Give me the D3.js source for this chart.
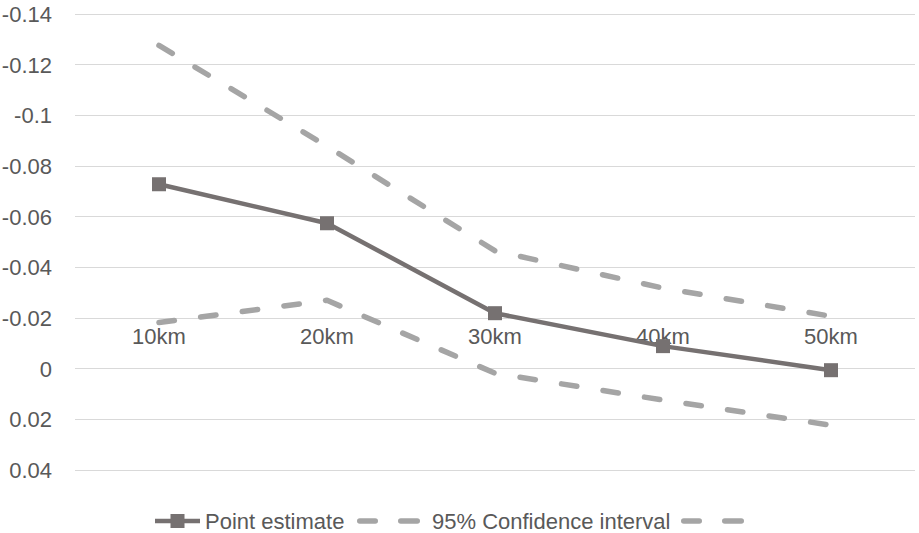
<!DOCTYPE html>
<html>
<head>
<meta charset="utf-8">
<script src="https://cdn.jsdelivr.net/npm/d3@7"></script>
<style>
  html, body { margin: 0; padding: 0; background: #ffffff; }
  svg { display: block; }
  text { font-family: "Liberation Sans", Arial, sans-serif; fill: #595959; }
</style>
</head>
<body>
<svg id="chart" width="919" height="533"></svg>
<script>
const categories = ["10km", "20km", "30km", "40km", "50km"];
const pointEstimate = [-0.0726, -0.0572, -0.0217, -0.0087, 0.0008];
const upperCI = [-0.1274, -0.0876, -0.0463, -0.0316, -0.0205];
const lowerCI = [-0.0180, -0.0268, 0.0020, 0.0126, 0.0225];
const yTicks = [-0.14, -0.12, -0.1, -0.08, -0.06, -0.04, -0.02, 0, 0.02, 0.04];
const seriesNames = ["Point estimate", "95% Confidence interval", ""];

const svg = d3.select("#chart");
const plot = { left: 75, right: 915, top: 13.5, bottom: 469.5 };
const FS = "22px";

const x = d3.scaleBand().domain(categories).range([plot.left, plot.right]);
const y = d3.scaleLinear().domain([-0.14, 0.04]).range([plot.top, plot.bottom]);
const cx = d => x(d) + x.bandwidth() / 2;

const fmt = v => (v === 0 ? "0" : String(+v.toFixed(2)));

// gridlines
svg.append("g").selectAll("line").data(yTicks).join("line")
  .attr("x1", plot.left).attr("x2", plot.right)
  .attr("y1", d => Math.round(y(d)) + 0.5).attr("y2", d => Math.round(y(d)) + 0.5)
  .attr("stroke", "#D9D9D9").attr("stroke-width", 1);

// y-axis labels
const yAxis = d3.axisLeft(y).tickValues(yTicks).tickFormat(fmt).tickSize(0).tickPadding(0);
const yg = svg.append("g").attr("transform", `translate(52,0)`).call(yAxis);
yg.select(".domain").remove();
yg.selectAll("text").attr("font-size", FS).attr("fill", "#595959")
  .attr("font-family", "Liberation Sans, Arial, sans-serif").attr("dy", "0.36em");

// x-axis labels (category axis crosses at -0.02)
const xAxis = d3.axisBottom(x).tickSize(0).tickPadding(0);
const xg = svg.append("g").attr("transform", `translate(0,${y(-0.02)})`).call(xAxis);
xg.select(".domain").remove();
xg.selectAll("text").attr("font-size", FS).attr("fill", "#595959")
  .attr("font-family", "Liberation Sans, Arial, sans-serif").attr("y", 26.5).attr("dy", 0);

const line = d3.line().x((d, i) => cx(categories[i])).y(d => y(d));

// CI lines
[upperCI, lowerCI].forEach(arr => {
  svg.append("path").datum(arr).attr("d", line)
    .attr("fill", "none").attr("stroke", "#A5A5A5").attr("stroke-width", 5.5)
    .attr("stroke-linecap", "round").attr("stroke-linejoin", "round")
    .attr("stroke-dasharray", "15.5,26.5");
});

// point estimate
svg.append("path").datum(pointEstimate).attr("d", line)
  .attr("fill", "none").attr("stroke", "#767171").attr("stroke-width", 4.5)
  .attr("stroke-linejoin", "round");
svg.append("g").selectAll("rect").data(pointEstimate).join("rect")
  .attr("x", (d, i) => cx(categories[i]) - 7).attr("y", d => y(d) - 7)
  .attr("width", 14).attr("height", 14).attr("fill", "#767171");

// legend
const ly = 521;
const lg = svg.append("g");
lg.append("line").attr("x1", 155).attr("x2", 200).attr("y1", ly).attr("y2", ly)
  .attr("stroke", "#767171").attr("stroke-width", 4.5);
lg.append("rect").attr("x", 177.5 - 7).attr("y", ly - 7).attr("width", 14).attr("height", 14)
  .attr("fill", "#767171");
lg.append("text").attr("x", 205).attr("y", ly).attr("dy", "0.36em")
  .attr("font-size", FS).text(seriesNames[0]);

function dashSym(x0) {
  [[x0, x0 + 21], [x0 + 41, x0 + 63]].forEach(([a, b]) => {
    lg.append("line").attr("x1", a + 2.75).attr("x2", b - 2.75).attr("y1", ly).attr("y2", ly)
      .attr("stroke", "#A5A5A5").attr("stroke-width", 5.5).attr("stroke-linecap", "round");
  });
}
dashSym(357);
lg.append("text").attr("x", 432).attr("y", ly).attr("dy", "0.36em")
  .attr("font-size", FS).text(seriesNames[1]);
dashSym(681);
lg.append("text").attr("x", 752).attr("y", ly).attr("dy", "0.36em")
  .attr("font-size", FS).text(seriesNames[2]);
</script>
</body>
</html>
